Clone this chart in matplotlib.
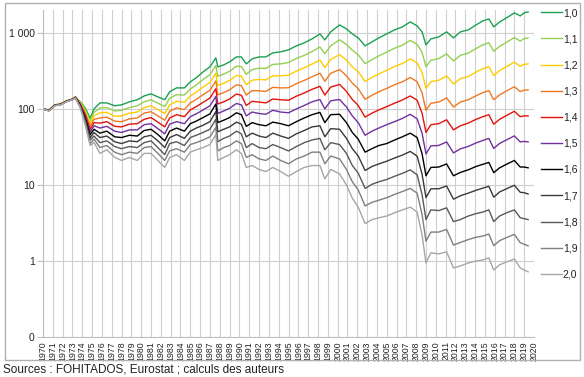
import matplotlib
matplotlib.use("Agg")
import matplotlib.pyplot as plt
from matplotlib.patches import Rectangle
from matplotlib.ticker import NullLocator

plt.rcParams['font.family'] = ['Liberation Sans', 'DejaVu Sans']

years = [1970.0, 1970.6, 1971.2, 1971.8, 1972.4, 1973.0, 1973.3, 1973.8, 1974.3, 1974.8,
         1975.2, 1975.8, 1976.5, 1977.3, 1978.0, 1978.8, 1979.6, 1980.3, 1981.0, 1981.7,
         1982.4, 1982.9, 1983.6, 1984.4, 1985.0, 1985.6, 1986.3, 1987.0, 1987.6, 1987.8,
         1988.4, 1989.0, 1989.7, 1990.2, 1990.7, 1991.3, 1992.0, 1992.7, 1993.4, 1994.2,
         1995.0, 1995.8, 1996.6, 1997.4, 1998.2, 1998.7, 1999.3, 2000.2, 2000.9, 2001.5,
         2002.1, 2002.8, 2003.5, 2004.2, 2005.0, 2005.8, 2006.6, 2007.4, 2008.1, 2008.6,
         2009.0, 2009.5, 2010.3, 2011.1, 2011.8, 2012.5, 2013.3, 2014.1, 2014.8, 2015.4,
         2015.9, 2016.5, 2017.2, 2018.0, 2018.6, 2019.0, 2019.4]

s_1_0 = [100, 97, 113, 117, 128, 135, 144, 124, 103, 76,
         100, 120, 120, 110, 113, 124, 132, 148, 158, 144,
         132, 168, 189, 189, 227, 256, 307, 357, 469, 357,
         379, 416, 483, 483, 391, 455, 483, 483, 546, 563,
         598, 675, 739, 834, 970, 809, 1031, 1274, 1129, 970,
         860, 675, 761, 860, 970, 1095, 1199, 1395, 1236, 1031,
         695, 834, 886, 1031, 860, 1031, 1095, 1274, 1438, 1528,
         1199, 1395, 1575, 1833, 1673, 1833, 1889]
s_1_1 = [100, 97, 113, 116, 128, 135, 144, 122, 98, 70,
         90, 103, 104, 94, 96, 104, 110, 124, 132, 119,
         107, 138, 154, 152, 183, 206, 244, 282, 371, 269,
         287, 313, 365, 361, 285, 330, 343, 341, 385, 391,
         408, 461, 506, 569, 652, 532, 678, 811, 704, 590,
         515, 393, 444, 498, 559, 629, 689, 797, 704, 557,
         359, 436, 459, 529, 428, 507, 541, 623, 697, 741,
         574, 668, 752, 870, 780, 841, 860]
s_1_2 = [100, 97, 113, 116, 127, 135, 143, 119, 93, 64,
         81, 89, 90, 80, 81, 88, 91, 104, 110, 98,
         87, 113, 126, 122, 148, 165, 194, 223, 294, 203,
         217, 237, 275, 270, 208, 239, 244, 241, 272, 272,
         279, 314, 347, 389, 439, 350, 447, 517, 439, 359,
         309, 229, 259, 289, 322, 361, 396, 455, 401, 301,
         186, 228, 238, 272, 213, 250, 267, 305, 338, 359,
         275, 320, 359, 413, 364, 386, 391]
s_1_3 = [100, 96, 112, 116, 127, 134, 143, 117, 88, 59,
         73, 76, 78, 69, 68, 74, 76, 88, 92, 81,
         71, 93, 103, 98, 120, 133, 154, 176, 233, 153,
         164, 178, 208, 202, 152, 174, 173, 170, 192, 189,
         190, 215, 237, 265, 295, 231, 294, 329, 273, 219,
         185, 134, 151, 168, 186, 208, 227, 260, 228, 163,
         96, 119, 123, 140, 106, 123, 132, 149, 164, 174,
         132, 153, 172, 196, 169, 177, 178]
s_1_4 = [100, 96, 112, 115, 127, 134, 143, 115, 84, 54,
         66, 65, 68, 59, 58, 63, 64, 73, 77, 67,
         58, 76, 84, 79, 97, 107, 122, 139, 184, 116,
         124, 135, 157, 151, 111, 126, 123, 120, 135, 132,
         130, 147, 162, 181, 198, 152, 194, 210, 170, 133,
         111, 78, 88, 97, 107, 119, 131, 148, 130, 88,
         49, 62, 64, 72, 53, 60, 65, 73, 79, 84,
         63, 73, 82, 93, 79, 81, 81]
s_1_5 = [100, 96, 112, 115, 126, 134, 142, 113, 80, 50,
         60, 56, 59, 51, 49, 53, 53, 62, 64, 55,
         47, 63, 68, 64, 79, 86, 97, 110, 146, 87,
         94, 102, 118, 113, 81, 91, 87, 85, 96, 91,
         89, 100, 111, 124, 133, 100, 128, 133, 106, 81,
         66, 45, 51, 56, 62, 68, 75, 85, 74, 48,
         25.6, 32.6, 33.1, 36.8, 26.4, 29.8, 32.1, 35.7, 38.5, 40.9,
         30.2, 35.2, 39.1, 44.2, 36.8, 37.4, 36.8]
s_1_6 = [100, 95, 111, 115, 126, 133, 141, 111, 76, 46,
         54, 48, 51, 43, 42, 45, 44, 52, 54, 46,
         38, 51, 56, 51, 64, 69, 77, 86, 116, 66,
         71, 77, 89, 84, 59, 66, 62, 60, 67, 64,
         60, 68, 76, 84, 90, 66, 84, 85, 66, 49,
         40, 27, 30, 33, 35, 39, 43, 48, 42, 25.8,
         13.2, 17.0, 17.2, 18.9, 13.2, 14.6, 15.8, 17.5, 18.7, 19.8,
         14.5, 16.8, 18.7, 21.0, 17.2, 17.2, 16.8]
s_1_7 = [100, 95, 111, 114, 126, 133, 141, 109, 72, 42,
         49, 42, 44, 37, 35, 38, 37, 43, 45, 38,
         31, 42, 46, 41, 51, 56, 61, 68, 92, 50,
         54, 58, 67, 63, 43, 48, 44, 42, 48, 44,
         41, 47, 52, 58, 60, 43, 55, 54, 41, 30,
         24, 15.5, 17.5, 18.9, 20.5, 22.6, 24.7, 27.6, 23.9, 13.9,
         6.8, 8.9, 8.9, 9.7, 6.5, 7.2, 7.8, 8.5, 9.1, 9.6,
         6.9, 8.1, 8.9, 9.9, 8.0, 7.9, 7.6]
s_1_8 = [100, 95, 111, 114, 125, 133, 140, 107, 68, 39,
         44, 36, 38, 32, 30, 32, 31, 36, 38, 31,
         25, 35, 37, 33, 42, 45, 49, 54, 73, 37,
         41, 44, 51, 47, 31, 35, 31, 30, 34, 31,
         28, 32, 36, 39, 41, 29, 36, 34, 26, 18,
         14.3, 9.0, 10.2, 11.0, 11.8, 13.0, 14.2, 15.8, 13.6, 7.5,
         3.5, 4.7, 4.6, 5.0, 3.3, 3.5, 3.9, 4.2, 4.4, 4.7,
         3.3, 3.9, 4.3, 4.7, 3.7, 3.6, 3.5]
s_1_9 = [100, 94, 110, 114, 125, 132, 140, 105, 65, 35,
         40, 31, 33, 27, 25, 27, 26, 31, 32, 26,
         21, 28, 30, 27, 34, 36, 39, 43, 57, 28,
         31, 33, 38, 35, 23, 25, 22, 21, 24, 21,
         19, 22, 24, 27, 27, 19, 24, 22, 16, 11,
         8.6, 5.3, 5.9, 6.3, 6.8, 7.5, 8.2, 9.0, 7.8, 4.1,
         1.82, 2.4, 2.4, 2.6, 1.62, 1.75, 1.91, 2.05, 2.13, 2.26,
         1.59, 1.85, 2.03, 2.24, 1.74, 1.66, 1.58]
s_2_0 = [100, 94, 110, 113, 125, 132, 139, 103, 62, 33,
         36, 26, 29, 23, 21, 23, 21, 26, 26, 21,
         17, 23, 25, 21, 27, 29, 31, 34, 46, 21,
         23, 25, 29, 26, 17, 18, 16, 15, 17, 15,
         13, 15, 17, 18, 18, 12, 16, 14, 10, 6.7,
         5.1, 3.1, 3.5, 3.7, 3.9, 4.3, 4.7, 5.1, 4.4, 2.2,
         0.94, 1.28, 1.24, 1.32, 0.81, 0.86, 0.94, 1.0, 1.03, 1.10,
         0.76, 0.89, 0.97, 1.06, 0.81, 0.76, 0.72]

series_labels = ['1,0', '1,1', '1,2', '1,3', '1,4', '1,5', '1,6', '1,7', '1,8', '1,9', '2,0']
series = [s_1_0, s_1_1, s_1_2, s_1_3, s_1_4, s_1_5, s_1_6, s_1_7, s_1_8, s_1_9, s_2_0]
colors = ['#1aa050', '#92d050', '#ffcc00', '#f07820', '#e3120b', '#7030a0',
          '#000000', '#3a3a3a', '#595959', '#7f7f7f', '#a6a6a6']

y_ticks = [0.1, 1, 10, 100, 1000]
y_tick_labels = ['0', '1', '10', '100', '1 000']
x_years = list(range(1970, 2021))

W, H = 584, 377
fig = plt.figure(figsize=(W / 100, H / 100), dpi=100)
ax = fig.add_axes([43 / W, 1 - 337 / H, (534 - 43) / W, (337 - 10) / H])

for vals, col, lab in zip(series, colors, series_labels):
    ax.plot(years, vals, color=col, lw=1.0, label=lab, solid_joinstyle='round')

ax.set_yscale('log')
ax.set_ylim(0.1, 2000)
ax.set_xlim(1970, 2020)
ax.set_yticks(y_ticks)
ax.set_yticklabels(y_tick_labels)
ax.yaxis.set_minor_locator(NullLocator())
ax.set_xticks(x_years)
ax.set_xticklabels([str(y) for y in x_years], rotation=90)

ax.grid(True, color='#cfcfcf', lw=0.8)
ax.set_axisbelow(True)
for side in ['top', 'right']:
    ax.spines[side].set_visible(False)
ax.spines['left'].set_color('#bfbfbf')
ax.spines['bottom'].set_color('#bfbfbf')
ax.tick_params(axis='y', length=4, color='#bfbfbf', labelsize=7.5, pad=2, labelcolor='#222222')
ax.tick_params(axis='x', length=0, labelsize=6.3, pad=3, labelcolor='#222222')

leg = ax.legend(loc='upper left', bbox_to_anchor=(541 / W, 1 - 8 / H),
                bbox_transform=fig.transFigure, frameon=False, fontsize=7.5,
                handlelength=2.0, handletextpad=0.1, labelspacing=1.55,
                borderpad=0, borderaxespad=0)
for t in leg.get_texts():
    t.set_color('#222222')

fig.patches.append(Rectangle((5 / W, 1 - 360 / H), 575 / W, 357 / H,
                             transform=fig.transFigure, fill=False,
                             edgecolor='#b0b0b0', lw=1.0))

fig.text(3 / W, 2 / H, 'Sources : FOHITADOS, Eurostat ; calculs des auteurs',
         fontsize=8.5, va='bottom', ha='left', color='#222222')

fig.savefig('out.png', dpi=100)
